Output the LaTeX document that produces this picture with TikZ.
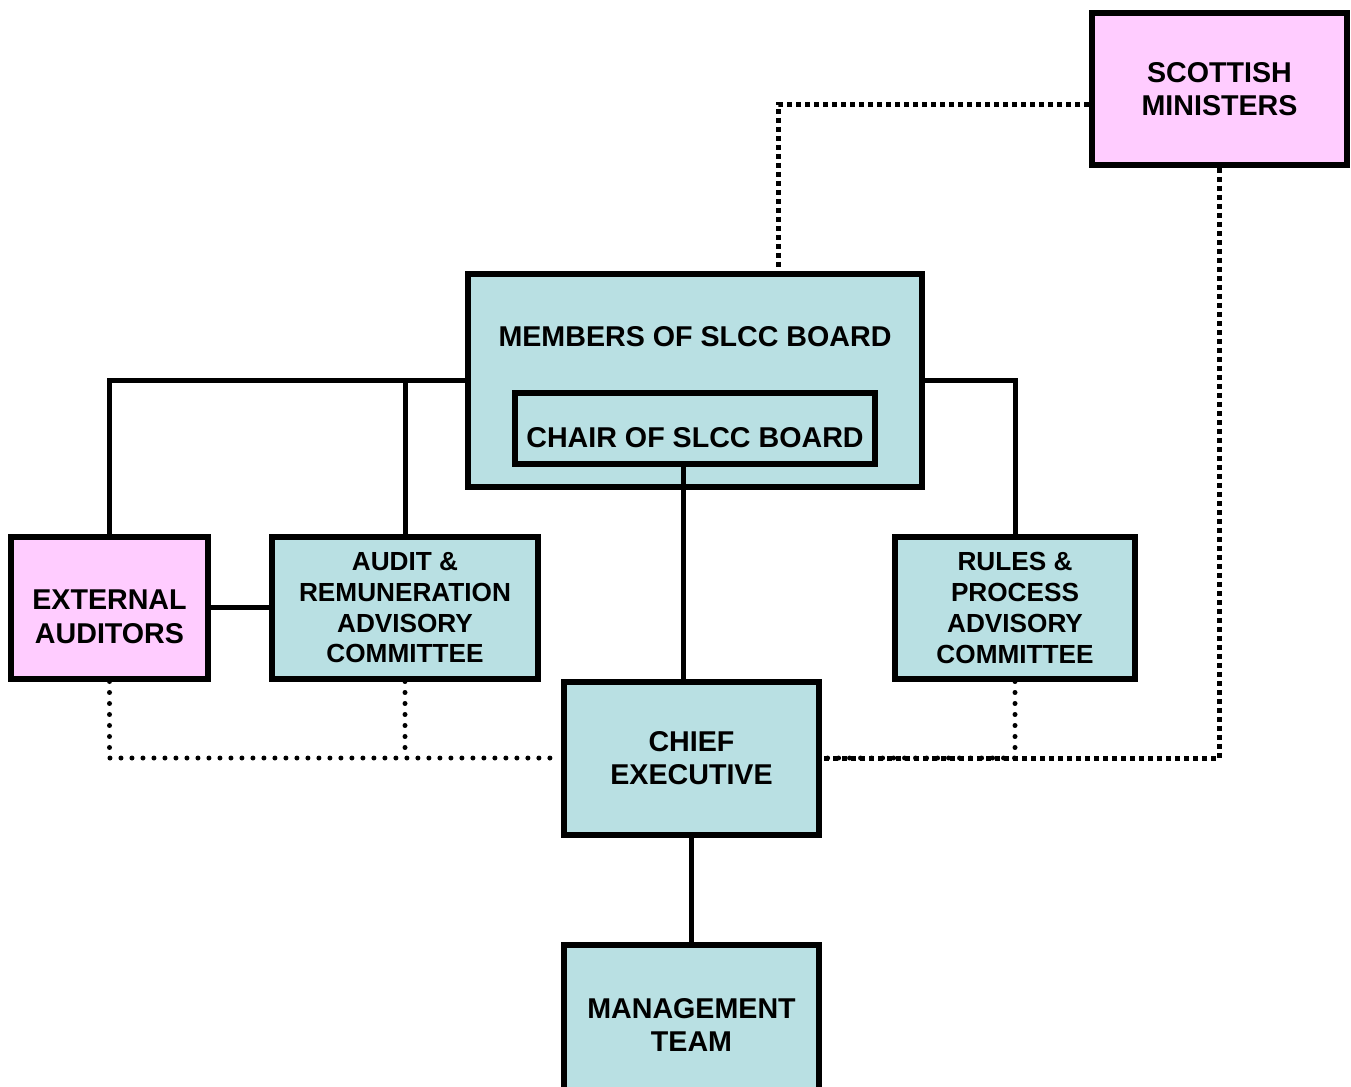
\documentclass[tikz,border=0pt]{standalone}
\usepackage{fontspec}
\setmainfont{Liberation Sans}
\definecolor{slccteal}{RGB}{185,224,227}
\definecolor{slccpink}{RGB}{255,204,255}

\begin{document}
\begin{tikzpicture}[x=0.02cm, y=-0.02cm,
		every node/.style={font=\bfseries\fontsize{16.3}{19.3}\selectfont, align=center, inner sep=0pt, text depth=0pt},
		b/.style={draw, line width=0.12cm, rectangle},
		t/.style={b, fill=slccteal},
		p/.style={b, fill=slccpink},
		cmte/.style={t, minimum height=2.84cm, font=\bfseries\fontsize{14.9}{17.6}\selectfont},
		link/.style={line width=0.1cm},
		dots/.style={line width=0.1cm, line cap=round, dash pattern=on 0pt off 0.22cm},
		sq/.style={line width=0.1cm, dash pattern=on 0.1cm off 0.08cm}]
			\useasboundingbox (0,0) rectangle (1351,1086);

			\node[p, minimum width=5.1cm, minimum height=3.04cm] (sm) at (1219.5, 89) {SCOTTISH\\MINISTERS};
			\node[t, minimum width=9.1cm, minimum height=4.28cm] (board) at (695, 380.5) {};
			\node (boardtxt) at (695, 336) {MEMBERS OF SLCC BOARD};
			\node[b, minimum width=7.2cm, minimum height=1.42cm, text height=0.74cm] (chair) at (695, 428.5) {CHAIR OF SLCC BOARD};
			\node[p, minimum width=3.96cm, minimum height=2.84cm, text height=1.42cm] (ext) at (109.5, 607.5) {EXTERNAL\\AUDITORS};
			\node[cmte, minimum width=5.34cm] (audit) at (405, 607.5) {AUDIT \&\\REMUNERATION\\ADVISORY\\COMMITTEE};
			\node[cmte, minimum width=4.82cm] (rules) at (1015, 607.5) {RULES \&\\PROCESS\\ADVISORY\\COMMITTEE};
			\node[t, minimum width=5.12cm, minimum height=3.06cm] (chief) at (691.5, 758) {CHIEF\\EXECUTIVE};
			\node[t, minimum width=5.12cm, minimum height=3.22cm] (mgmt) at (691.5, 1025) {MANAGEMENT\\TEAM};

			% reporting lines
			\draw[link] (board.west) -| (ext.north);
			\draw[link] (audit.north) -- (audit.north |- board.west);
			\draw[link] (board.east) -| (rules.north);
			\draw[link] ([xshift=-0.24cm]chair.south) -- ([xshift=-0.24cm]chair.south |- chief.north);
			\draw[link] (chief.south) -- (mgmt.north);
			\draw[link] (ext.east) -- (audit.west);

			% dotted lines
			\draw[sq] ([yshift=-0.3cm]sm.west) -| ([xshift=1.68cm]board.north);
			\draw[sq] (sm.south) |- (chief.east);
			\draw[dots] (rules.south) |- (chief.east);
			\draw[dots] (ext.south) |- (chief.west);
			\draw[dots] (audit.south) -- (audit.south |- chief.west);
		\end{tikzpicture}
\end{document}
